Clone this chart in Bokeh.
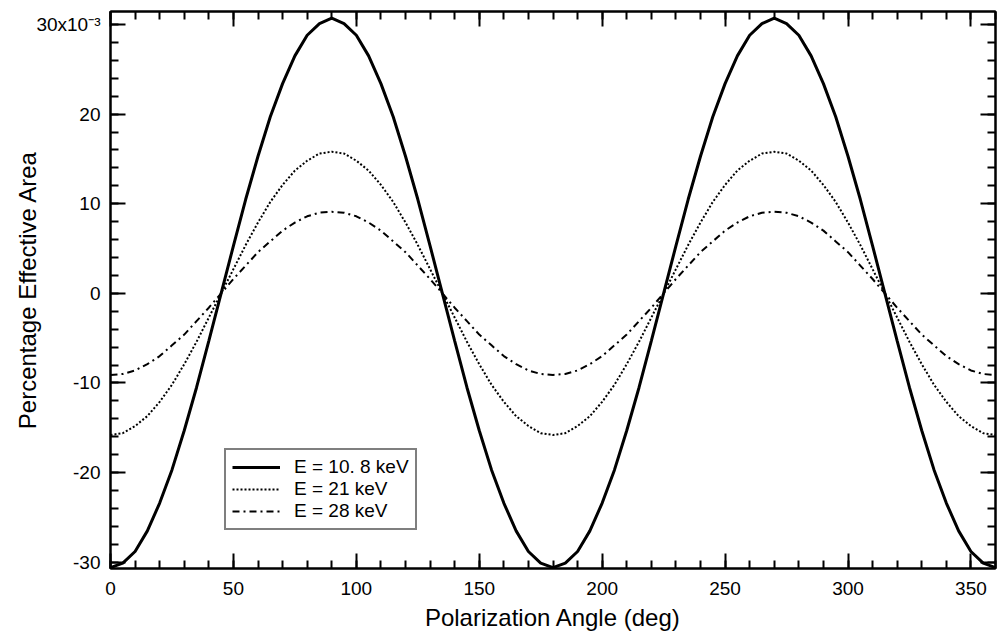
from bokeh.plotting import figure
from bokeh.models import (Range1d, LinearAxis, SingleIntervalTicker, Legend,
                          LegendItem, ColumnDataSource, CustomJSTickFormatter)
from bokeh.embed import file_html
from bokeh.resources import INLINE

# ---- data (values in units of 1e-3) ----
angle_deg = [0, 5, 10, 15, 20, 25, 30, 35, 40, 45, 50, 55, 60, 65, 70, 75, 80, 85, 90,
             95, 100, 105, 110, 115, 120, 125, 130, 135, 140, 145, 150, 155, 160, 165, 170, 175, 180,
             185, 190, 195, 200, 205, 210, 215, 220, 225, 230, 235, 240, 245, 250, 255, 260, 265, 270,
             275, 280, 285, 290, 295, 300, 305, 310, 315, 320, 325, 330, 335, 340, 345, 350, 355, 360]

area_10_8keV = [-30.6, -30.1, -28.8, -26.5, -23.4, -19.7, -15.3, -10.5, -5.3, 0.0,
                5.3, 10.5, 15.3, 19.7, 23.4, 26.5, 28.8, 30.1, 30.7,
                30.1, 28.8, 26.5, 23.4, 19.7, 15.3, 10.5, 5.3, 0.0,
                -5.3, -10.5, -15.3, -19.7, -23.4, -26.5, -28.8, -30.1, -30.6,
                -30.1, -28.8, -26.5, -23.4, -19.7, -15.3, -10.5, -5.3, 0.0,
                5.3, 10.5, 15.3, 19.7, 23.4, 26.5, 28.8, 30.1, 30.7,
                30.1, 28.8, 26.5, 23.4, 19.7, 15.3, 10.5, 5.3, 0.0,
                -5.3, -10.5, -15.3, -19.7, -23.4, -26.5, -28.8, -30.1, -30.6]

area_21keV = [-15.8, -15.6, -14.8, -13.7, -12.1, -10.2, -7.9, -5.4, -2.7, 0.0,
              2.7, 5.4, 7.9, 10.2, 12.1, 13.7, 14.8, 15.6, 15.8,
              15.6, 14.8, 13.7, 12.1, 10.2, 7.9, 5.4, 2.7, 0.0,
              -2.7, -5.4, -7.9, -10.2, -12.1, -13.7, -14.8, -15.6, -15.8,
              -15.6, -14.8, -13.7, -12.1, -10.2, -7.9, -5.4, -2.7, 0.0,
              2.7, 5.4, 7.9, 10.2, 12.1, 13.7, 14.8, 15.6, 15.8,
              15.6, 14.8, 13.7, 12.1, 10.2, 7.9, 5.4, 2.7, 0.0,
              -2.7, -5.4, -7.9, -10.2, -12.1, -13.7, -14.8, -15.6, -15.8]

area_28keV = [-9.1, -9.0, -8.6, -7.9, -7.0, -5.8, -4.6, -3.1, -1.6, 0.0,
              1.6, 3.1, 4.6, 5.8, 7.0, 7.9, 8.6, 9.0, 9.1,
              9.0, 8.6, 7.9, 7.0, 5.8, 4.6, 3.1, 1.6, 0.0,
              -1.6, -3.1, -4.6, -5.8, -7.0, -7.9, -8.6, -9.0, -9.1,
              -9.0, -8.6, -7.9, -7.0, -5.8, -4.6, -3.1, -1.6, 0.0,
              1.6, 3.1, 4.6, 5.8, 7.0, 7.9, 8.6, 9.0, 9.1,
              9.0, 8.6, 7.9, 7.0, 5.8, 4.6, 3.1, 1.6, 0.0,
              -1.6, -3.1, -4.6, -5.8, -7.0, -7.9, -8.6, -9.0, -9.1]

series_labels = ["E = 10. 8 keV", "E = 21 keV", "E = 28 keV"]
y_tick_labels = {-30: "-30", -20: "-20", -10: "-10", 0: "0",
                 10: "10", 20: "20", 30: "30x10\u207b\u00b3"}
x_title = "Polarization Angle (deg)"
y_title = "Percentage Effective Area"

FONT = "Liberation Sans"

p = figure(width=997, height=640,
           x_range=Range1d(0, 360), y_range=Range1d(-30.7, 31.45),
           output_backend="svg", toolbar_location=None,
           min_border_left=110, min_border_right=2,
           min_border_top=11, min_border_bottom=72,
           x_axis_label=x_title, y_axis_label=y_title)

p.xgrid.visible = False
p.ygrid.visible = False
p.outline_line_color = "black"
p.outline_line_width = 2
p.background_fill_color = "white"
p.border_fill_color = "white"

def style_axis(ax, ticker, show_labels):
    ax.ticker = ticker
    ax.axis_line_color = "black"
    ax.axis_line_width = 2
    ax.major_tick_line_color = "black"
    ax.major_tick_line_width = 2
    ax.minor_tick_line_color = "black"
    ax.minor_tick_line_width = 2
    ax.major_tick_in = 15
    ax.major_tick_out = 0
    ax.minor_tick_in = 8
    ax.minor_tick_out = 0
    if show_labels:
        ax.major_label_text_font = FONT
        ax.major_label_text_font_size = "19px"
        ax.major_label_text_color = "black"
        ax.axis_label_text_font = FONT
        ax.axis_label_text_font_size = "24px"
        ax.axis_label_text_font_style = "normal"
        ax.axis_label_text_color = "black"
    else:
        ax.formatter = CustomJSTickFormatter(code="return ''")
        ax.major_label_standoff = 0

xt = lambda: SingleIntervalTicker(interval=50, num_minor_ticks=5)
yt = lambda: SingleIntervalTicker(interval=10, num_minor_ticks=5)

style_axis(p.xaxis[0], xt(), True)
p.xaxis[0].major_label_standoff = 13
p.xaxis[0].axis_label_standoff = 6

style_axis(p.yaxis[0], yt(), True)
p.yaxis[0].major_label_overrides = y_tick_labels
p.yaxis[0].major_label_standoff = 10
p.yaxis[0].axis_label_standoff = -8

top = LinearAxis()
style_axis(top, xt(), False)
p.add_layout(top, "above")
right = LinearAxis()
style_axis(right, yt(), False)
p.add_layout(right, "right")

src = ColumnDataSource(dict(x=angle_deg, a=area_10_8keV, b=area_21keV, c=area_28keV))
r1 = p.line("x", "a", source=src, line_color="black", line_width=3)
r2 = p.line("x", "b", source=src, line_color="black", line_width=2, line_dash="2 2")
r3 = p.line("x", "c", source=src, line_color="black", line_width=2, line_dash="7 4 2 4")

legend = Legend(items=[LegendItem(label=series_labels[0], renderers=[r1]),
                       LegendItem(label=series_labels[1], renderers=[r2]),
                       LegendItem(label=series_labels[2], renderers=[r3])],
                location=(114, 38))
legend.label_text_font = FONT
legend.label_text_font_size = "19px"
legend.label_text_color = "black"
legend.glyph_width = 48
legend.glyph_height = 20
legend.label_height = 20
legend.label_standoff = 14
legend.spacing = 0
legend.padding = 6
legend.margin = 0
legend.border_line_color = "black"
legend.border_line_width = 2
legend.background_fill_alpha = 1
p.add_layout(legend)

open("out.html", "w").write(file_html(p, INLINE))
